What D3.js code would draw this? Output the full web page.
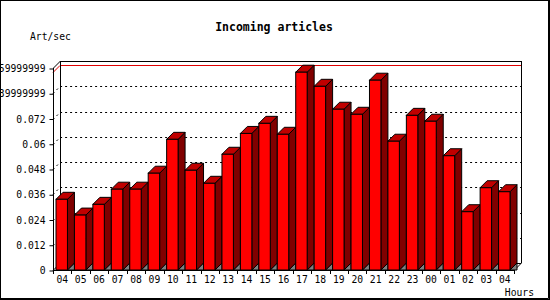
<!DOCTYPE html>
<html><head><meta charset="utf-8">
<script src="https://cdn.jsdelivr.net/npm/d3@7"></script>
<style>html,body{margin:0;padding:0;background:#fff;}svg{display:block;}</style>
</head><body>
<script>
const hours = ["04","05","06","07","08","09","10","11","12","13","14","15","16","17","18","19","20","21","22","23","00","01","02","03","04"];
const artsPerSec = [0.0336,0.0261,0.0312,0.0384,0.0384,0.0460,0.0621,0.0474,0.0412,0.0550,0.0649,0.0697,0.0645,0.0940,0.0873,0.0764,0.0740,0.0902,0.0612,0.0735,0.0707,0.0543,0.0277,0.0391,0.0372];
const yTickValues = [0,0.012,0.024,0.036,0.048,0.06,0.072,0.084,0.096];
const yTickLabels = ["0","0.012","0.024","0.036","0.048","0.06","0.072","0.0839999999","0.0959999999"];
const title = "Incoming articles";
const yTitle = "Art/sec";
const xTitle = "Hours";

(function () {
const W = 550, H = 300, D = 7;
const pL = 53, pR = 514, pB = 270, pT = 68;
const svg = d3.select("body").append("svg").attr("width", W).attr("height", H);
svg.append("rect").attr("width", W).attr("height", H).attr("fill", "#fff");

const n = hours.length;
const x = d3.scaleBand().domain(d3.range(n)).range([pL, pR]).paddingInner(0).paddingOuter(0);
const y = d3.scaleLinear().domain([0, 0.096]).range([pB, pT]);
const bw = x.bandwidth();

// grid lines (dotted) including side-wall diagonal
const grid = svg.append("g");
yTickValues.forEach(v => {
  if (v === 0 || v === 0.096) return;
  const yy = Math.round(y(v)) + 0.5;
  grid.append("path").attr("d", `M${pL},${yy} L${pL + D},${yy - D} H${pR + D}`)
    .attr("fill", "none").attr("stroke", "#000").attr("stroke-width", 1).attr("stroke-dasharray", "2,3");
});

// max line (red)
const maxV = d3.max(artsPerSec);
const my = Math.round(y(maxV)) + 0.5;
svg.append("path").attr("d", `M${pL},${my} L${pL + D},${my - D} H${pR + D}`)
  .attr("fill", "none").attr("stroke", "#e00000").attr("stroke-width", 1);

// frame lines
const frame = svg.append("g").attr("fill", "none").attr("stroke", "#000").attr("stroke-width", 1);
frame.append("path").attr("d", `M${pL + D + 0.5},${pB - D} V${pT - D + 0.5} H${pR + D + 0.5} V${pB - D}`).attr("shape-rendering", "crispEdges");
frame.append("path").attr("d", `M${pL + 0.5},${pT} L${pL + D + 0.5},${pT - D}`);
frame.append("path").attr("d", `M${pL + D},${pB - D + 0.5} H${pR + D}`).attr("shape-rendering", "crispEdges");
frame.append("path").attr("d", `M${pL},${pB + 0.5} L${pL + D},${pB - D + 0.5}`);
frame.append("path").attr("d", `M${pR},${pB + 0.5} L${pR + D + 0.5},${pB - D}`);

// bars
const bars = svg.append("g").attr("stroke", "#000").attr("stroke-width", 1).attr("stroke-linejoin", "miter");
artsPerSec.forEach((v, i) => {
  const xf = x(i) + 3, w = bw - D, yt = y(v), yb = pB;
  const g = bars.append("g");
  g.append("polygon").attr("points", [[xf + w, yb], [xf + w + D, yb - D], [xf + w + D, yb]].join(" ")).attr("fill", "#808080");
  g.append("polygon").attr("points", [[xf + w, yt], [xf + w + D, yt - D], [xf + w + D, yb - D], [xf + w, yb]].join(" ")).attr("fill", "#800000");
  g.append("polygon").attr("points", [[xf, yt], [xf + D, yt - D], [xf + w + D, yt - D], [xf + w, yt]].join(" ")).attr("fill", "#c00000");
  g.append("rect").attr("x", xf).attr("y", yt).attr("width", w).attr("height", yb - yt).attr("fill", "#ff0000");
});

// axes lines
const ax = svg.append("g").attr("stroke", "#000").attr("stroke-width", 1).attr("shape-rendering", "crispEdges");
ax.append("line").attr("x1", pL + 0.5).attr("x2", pL + 0.5).attr("y1", pT).attr("y2", pB + 1);
ax.append("line").attr("x1", pL).attr("x2", pR).attr("y1", pB + 0.5).attr("y2", pB + 0.5);

// y axis ticks + labels
const yAxis = d3.axisLeft(y).tickValues(yTickValues).tickFormat((d, i) => yTickLabels[i]).tickSize(4).tickPadding(4);
const yg = svg.append("g").attr("transform", `translate(${pL + 0.5},0.5)`).call(yAxis);
yg.select(".domain").remove();
yg.selectAll("text").attr("font-family", "DejaVu Sans Mono").attr("font-size", "9.7px").attr("fill", "#000");
yg.selectAll("line").attr("stroke", "#000");

// x axis: ticks at band boundaries, labels at band centers
const xg = svg.append("g");
d3.range(n + 1).forEach(i => {
  const xx = Math.round(i < n ? x(i) : pR) + 0.5;
  xg.append("line").attr("x1", xx).attr("x2", xx).attr("y1", pB).attr("y2", pB + 4).attr("stroke", "#000");
});
xg.selectAll("text").data(hours).join("text")
  .attr("x", (d, i) => x(i) + bw / 2).attr("y", pB + 13)
  .attr("text-anchor", "middle").attr("font-family", "DejaVu Sans Mono").attr("font-size", "9.7px").attr("fill", "#000")
  .text(d => d);

// titles
svg.append("text").attr("x", 274).attr("y", 31).attr("text-anchor", "middle")
  .attr("font-family", "DejaVu Sans Mono").attr("font-weight", "bold").attr("font-size", "11.5px").text(title);
svg.append("text").attr("x", 30).attr("y", 40)
  .attr("font-family", "DejaVu Sans Mono").attr("font-size", "9.7px").text(yTitle);
svg.append("text").attr("x", 534).attr("y", 296).attr("text-anchor", "end")
  .attr("font-family", "DejaVu Sans Mono").attr("font-size", "9.7px").text(xTitle);

// outer border
svg.append("rect").attr("x", 0.5).attr("y", 0.5).attr("width", W - 1).attr("height", H - 1)
  .attr("fill", "none").attr("stroke", "#000");
svg.append("path").attr("d", `M${W - 1.5},1 V${H - 1.5} H1`).attr("fill", "none").attr("stroke", "#000");
})();
</script>
</body></html>
